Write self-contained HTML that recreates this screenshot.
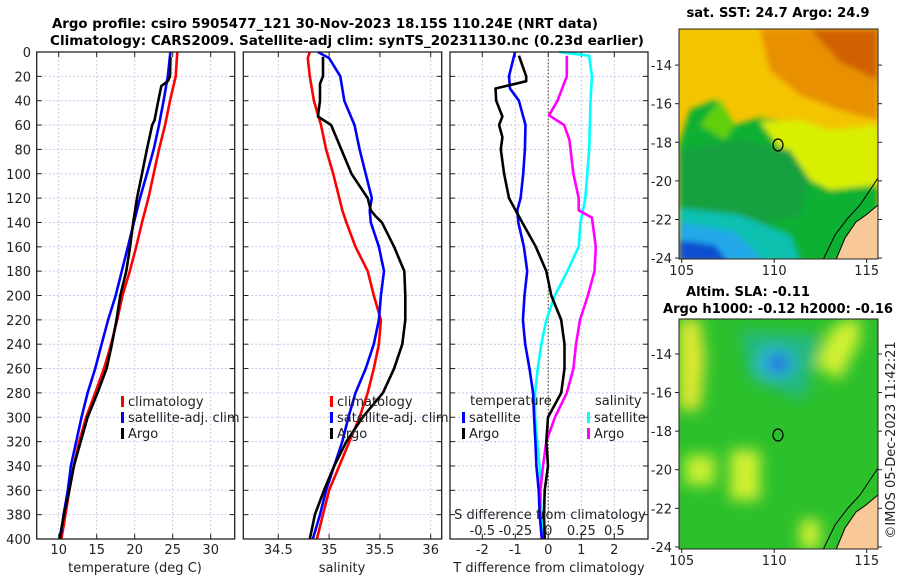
<!DOCTYPE html>
<html><head><meta charset="utf-8"><style>
body{margin:0;background:#fff;}
svg{display:block;font-family:"DejaVu Sans","Liberation Sans",sans-serif;}
.t{font-size:13px;fill:#222;}
.b{font-size:13px;font-weight:bold;fill:#000;}
</style></head><body>
<svg id="fig" width="900" height="580" viewBox="0 0 900 580">
<text class="b" x="325" y="28" text-anchor="middle" textLength="546" lengthAdjust="spacingAndGlyphs">Argo profile: csiro 5905477_121 30-Nov-2023 18.15S 110.24E (NRT data)</text>
<text class="b" x="347" y="45" text-anchor="middle" textLength="594" lengthAdjust="spacingAndGlyphs">Climatology: CARS2009. Satellite-adj clim: synTS_20231130.nc (0.23d earlier)</text>

<g>
<defs>
<clipPath id="c1"><rect x="679" y="29" width="199" height="230"/></clipPath>
<clipPath id="c2"><rect x="679" y="319" width="199" height="230"/></clipPath>
<filter id="bl" x="-20%" y="-20%" width="140%" height="140%"><feGaussianBlur stdDeviation="3"/></filter>
<filter id="bl2" x="-20%" y="-20%" width="140%" height="140%"><feGaussianBlur stdDeviation="7"/></filter>
</defs>
<g clip-path="url(#c1)">
<rect x="679" y="29" width="199" height="230" fill="#f4c400"/>
<g filter="url(#bl)">
<polygon points="760,29 878,29 878,120 840,110 800,95 770,70" fill="#e89000"/>
<polygon points="810,29 878,29 878,80 840,62" fill="#d06000"/>
<polygon points="679,145 690,110 715,100 735,125 760,118 790,122 820,140 800,170 830,185 878,175 878,262 679,262" fill="#10b030"/>
<polygon points="700,125 720,100 735,125 725,140" fill="#60d010"/>
<polygon points="760,122 800,120 830,130 878,125 878,185 830,190 800,175" fill="#d8f000"/>
<polygon points="679,150 740,140 790,150 810,180 800,215 760,225 679,215" fill="#14a040"/>
<polygon points="679,208 740,215 790,235 800,262 679,262" fill="#10c0b0"/>
<polygon points="679,222 735,232 765,262 679,262" fill="#20a8e8"/>
<polygon points="679,240 715,245 728,262 679,262" fill="#1050d0"/>
</g>
<polygon points="835,262 845,238 856,222 866,215 878,205 878,262" fill="#f8c898" stroke="#000" stroke-width="1"/>
<polyline points="822,262 835,235 848,218 860,205 870,190 878,178" fill="none" stroke="#000" stroke-width="1"/>
<ellipse cx="778" cy="145" rx="5" ry="6" fill="none" stroke="#000" stroke-width="1.2"/>
</g>
<rect x="679" y="29" width="199" height="230" fill="none" stroke="#222" stroke-width="1"/>
</g>
<text class="b" x="778" y="17" text-anchor="middle" textLength="183" lengthAdjust="spacingAndGlyphs">sat. SST: 24.7 Argo: 24.9</text>

<g>
<g clip-path="url(#c2)">
<rect x="679" y="319" width="199" height="230" fill="#2cc02c"/>
<g filter="url(#bl2)">
<polygon points="679,319 700,319 705,360 700,410 679,410" fill="#e0e830"/>
<polygon points="830,330 845,320 860,320 860,340 840,380 815,365" fill="#d0f030"/>
<polygon points="685,455 715,455 715,485 685,485" fill="#c8f030"/>
<polygon points="730,450 760,450 760,500 730,500" fill="#d0f030"/>
<polygon points="800,520 820,520 820,549 800,549" fill="#d0f030"/>
<polygon points="740,330 820,335 805,400 750,380" fill="#20b880"/>
<ellipse cx="776" cy="363" rx="20" ry="16" fill="#30c0d0"/>
<ellipse cx="778" cy="363" rx="12" ry="10" fill="#2070e0"/>
</g>
<polygon points="835,552 845,528 856,512 866,505 878,495 878,552" fill="#f8c898" stroke="#000" stroke-width="1"/>
<polyline points="822,552 835,525 848,508 860,495 870,480 878,468" fill="none" stroke="#000" stroke-width="1"/>
<ellipse cx="778" cy="435" rx="5" ry="6" fill="none" stroke="#000" stroke-width="1.2"/>
</g>
<rect x="679" y="319" width="199" height="230" fill="none" stroke="#222" stroke-width="1"/>
</g>
<text class="b" x="748" y="296" text-anchor="middle" textLength="124" lengthAdjust="spacingAndGlyphs">Altim. SLA: -0.11</text>
<text class="b" x="778" y="313" text-anchor="middle" textLength="230" lengthAdjust="spacingAndGlyphs">Argo h1000: -0.12 h2000: -0.16</text>
<text class="t" transform="translate(895,440) rotate(-90)" text-anchor="middle">©IMOS 05-Dec-2023 11:42:21</text>
<g id="plots"></g>
</svg>
<script>
const tDep=[0,20,40,60,80,100,120,140,160,180,200,220,240,260,280,300,320,340,360,380,400];
const tClim=[25.6,25.4,24.65,24.0,23.2,22.5,21.8,20.96,20.2,19.35,18.4,17.7,16.9,15.96,14.8,13.6,12.7,12.0,11.4,10.9,10.35];
const tSat=[24.7,24.35,23.8,23.2,22.5,21.6,20.7,19.9,19.1,18.3,17.5,16.5,15.65,14.8,13.8,13.0,12.3,11.6,11.2,10.65,10.2];
const aDep=[4,20,24,28,40,56,60,80,100,120,140,160,180,200,220,240,260,280,300,320,340,360,380,400];
const tArgo=[24.7,24.65,24.35,23.5,23.1,22.6,22.3,21.6,20.96,20.3,19.8,19.4,18.9,18.1,17.6,17.0,16.3,15.1,13.8,12.9,12.0,11.4,10.7,10.1];
const sDep=[0,5,20,40,60,80,100,120,130,140,160,180,200,220,240,260,280,300,320,340,360,380,400];
const sClim=[34.81,34.79,34.81,34.85,34.92,34.97,35.04,35.10,35.13,35.17,35.26,35.38,35.44,35.51,35.49,35.44,35.38,35.30,35.20,35.10,35.0,34.94,34.88];
const sSat=[34.89,35.0,35.11,35.15,35.25,35.30,35.36,35.42,35.40,35.41,35.49,35.54,35.51,35.49,35.44,35.36,35.26,35.19,35.13,35.05,34.97,34.91,34.84];
const sArgoDep=[4,20,26,40,53,60,80,100,120,130,135,140,160,180,200,220,240,260,280,300,320,340,360,380,400];
const sArgo=[34.94,34.94,34.91,34.91,34.89,35.02,35.12,35.22,35.38,35.41,35.46,35.52,35.64,35.74,35.75,35.75,35.72,35.64,35.53,35.33,35.17,35.05,34.95,34.86,34.81];
const dTDep=[0,20,30,40,60,80,100,120,130,140,160,180,200,220,240,260,280,300,320,340,360,380,400];
const dTSat=[-1.01,-1.19,-1.16,-0.89,-0.69,-0.71,-0.76,-0.84,-0.94,-0.91,-0.74,-0.64,-0.72,-0.77,-0.70,-0.57,-0.46,-0.43,-0.39,-0.36,-0.29,-0.26,-0.19];
const dTArgoDep=[3,20,24,30,40,53,60,70,80,100,120,130,140,160,180,200,220,240,260,280,300,320,340,360,380,400];
const dTArgo=[-0.89,-0.67,-0.67,-1.6,-1.58,-1.39,-1.49,-1.39,-1.44,-1.34,-1.19,-0.99,-0.79,-0.38,-0.06,0.09,0.39,0.49,0.49,0.39,-0.01,-0.06,-0.01,-0.11,-0.13,-0.11];
const dSDep=[0,3,20,40,80,120,140,160,180,200,220,240,260,280,300,320,340,360,380,400];
const dSSat=[0.08,0.31,0.33,0.32,0.31,0.28,0.245,0.23,0.145,0.05,-0.015,-0.053,-0.08,-0.1,-0.1,-0.083,-0.066,-0.06,-0.05,-0.03];
const dSArgoDep=[3,20,40,52,60,72,100,120,130,136,160,180,200,220,240,260,280,300,320,340,360,380,400];
const dSArgo=[0.14,0.14,0.07,0.005,0.12,0.16,0.19,0.23,0.23,0.33,0.36,0.35,0.30,0.24,0.21,0.19,0.14,0.05,-0.015,-0.04,-0.06,-0.065,-0.05];
const depthTicks=[0,20,40,60,80,100,120,140,160,180,200,220,240,260,280,300,320,340,360,380,400];
const tTicks=[10,15,20,25,30];
const sTicks=[34.5,35,35.5,36];
const dTTicks=[-2,-1,0,1,2];
const dSTicks=[-0.5,-0.25,0,0.25,0.5];
const dSTickLabels=["-0.5","-0.25","0","0.25","0.5"];
const lonTicks=[105,110,115];
const latTicks=[-14,-16,-18,-20,-22,-24];

const NS="http://www.w3.org/2000/svg";
const root=document.getElementById('plots');
const Y0=52,Y1=539;
const yD=d=>Y0+d*(Y1-Y0)/400;
const xT=t=>58.7+(t-10)*7.6;
const xS=s=>278.3+(s-34.5)*101.6;
const xDT=t=>548.3+t*33;
const xDS=s=>548.3+s*132;
function mk(tag,at,parent){const e=document.createElementNS(NS,tag);for(const k in at)e.setAttribute(k,at[k]);(parent||root).appendChild(e);return e;}
function txt(x,y,s,anchor,cls,parent){const e=mk('text',{x:x,y:y,'text-anchor':anchor||'middle',class:cls||'t'},parent);e.textContent=s;return e;}

const panels=[{x0:36.7,x1:234.7,name:'temperature-panel'},{x0:243.3,x1:441.7,name:'salinity-panel'},{x0:450,x1:648,name:'difference-panel'}];
const gridX=[tTicks.map(xT),sTicks.map(xS),dTTicks.map(xDT)];
panels.forEach((p,i)=>{
  const g=mk('g',{});
  
  
  p.g=g;
  depthTicks.forEach(d=>{
    const l=mk('line',{x1:p.x0,x2:p.x1,y1:yD(d),y2:yD(d),stroke:'#c4c8ec','stroke-width':1,'stroke-dasharray':'2,2'},g);
    
    
    mk('line',{x1:p.x0,x2:p.x0+5,y1:yD(d),y2:yD(d),stroke:'#222'},g);
    mk('line',{x1:p.x1-5,x2:p.x1,y1:yD(d),y2:yD(d),stroke:'#222'},g);
  });
  gridX[i].forEach(x=>{
    const l=mk('line',{x1:x,x2:x,y1:Y0,y2:Y1,stroke:'#d8c8e0','stroke-width':1,'stroke-dasharray':'2,2'},g);
    
    
    mk('line',{x1:x,x2:x,y1:Y0,y2:Y0+5,stroke:'#222'},g);
    mk('line',{x1:x,x2:x,y1:Y1-5,y2:Y1,stroke:'#222'},g);
  });
});
depthTicks.forEach(d=>{const t=txt(31,yD(d)+5,String(d),'end');
  
  });
tTicks.forEach(v=>{const t=txt(xT(v),554,String(v));});
sTicks.forEach(v=>{const t=txt(xS(v),554,String(v));});
dTTicks.forEach(v=>{const t=txt(xDT(v),554,String(v));});
let a=txt(135,572,'temperature (deg C)');
a=txt(342,572,'salinity');
a=txt(549,572,'T difference from climatology');

mk('line',{x1:xDT(0),x2:xDT(0),y1:Y0,y2:Y1,stroke:'#556030','stroke-width':1.2,'stroke-dasharray':'1.5,2'},panels[2].g);

function line(g,xs,ds,fx,col,name){
  const pts=xs.map((v,i)=>fx(v).toFixed(1)+','+yD(ds[i]).toFixed(1)).join(' ');
  const e=mk('polyline',{points:pts,fill:'none',stroke:col,'stroke-width':2.6,'stroke-linejoin':'round'},g);
  
  
}
line(panels[0].g,tClim,tDep,xT,'#ff0000','temperature-climatology-line');
line(panels[0].g,tSat,tDep,xT,'#0000ff','temperature-satellite-line');
line(panels[0].g,tArgo,aDep,xT,'#000000','temperature-argo-line');
line(panels[1].g,sClim,sDep,xS,'#ff0000','salinity-climatology-line');
line(panels[1].g,sSat,sDep,xS,'#0000ff','salinity-satellite-line');
line(panels[1].g,sArgo,sArgoDep,xS,'#000000','salinity-argo-line');
line(panels[2].g,dSSat,dSDep,xDS,'#00ffff','s-diff-satellite-line');
line(panels[2].g,dSArgo,dSArgoDep,xDS,'#ff00ff','s-diff-argo-line');
line(panels[2].g,dTSat,dTDep,xDT,'#0000ff','t-diff-satellite-line');
line(panels[2].g,dTArgo,dTArgoDep,xDT,'#000000','t-diff-argo-line');

a=txt(550,519,'S difference from climatology');
dSTicks.forEach((v,i)=>{const t=txt(xDS(v),535,dSTickLabels[i]);});

function leg(x,y,col,label,name){
  const g=mk('g',{});
  
  
  mk('rect',{x:x,y:y-10,width:3,height:11,fill:col},g);
  txt(x+7,y,label,'start','t',g);
}
leg(121,406,'#ff0000','climatology','legend-climatology');
leg(121,422,'#0000ff','satellite-adj. clim','legend-satellite-adj');
leg(121,438,'#000000','Argo','legend-argo');
leg(330,406,'#ff0000','climatology','legend-climatology-sal');
leg(330,422,'#0000ff','satellite-adj. clim','legend-satellite-adj-sal');
leg(330,438,'#000000','Argo','legend-argo-sal');
a=txt(470,405,'temperature','start');
leg(462,422,'#0000ff','satellite','legend-t-satellite');
leg(462,438,'#000000','Argo','legend-t-argo');
a=txt(595,405,'salinity','start');
leg(587,422,'#00ffff','satellite','legend-s-satellite');
leg(587,438,'#ff00ff','Argo','legend-s-argo');

panels.forEach(p=>{mk('rect',{x:p.x0,y:Y0,width:p.x1-p.x0,height:Y1-Y0,fill:'none',stroke:'#222','stroke-width':1.3},p.g);});

const lonX=l=>681.7+(l-105)*18.5;
[[29,259,-12.13,19.3,'sst'],[319,549,-12.19,19.3,'sla']].forEach(m=>{
  const [top,bot,lat0,ppd,nm]=m;
  const latY=l=>top+(lat0-l)*ppd;
  latTicks.forEach(l=>{
    const y=latY(l);
    mk('line',{x1:679,x2:675,y1:y,y2:y,stroke:'#222'});
    mk('line',{x1:878,x2:882,y1:y,y2:y,stroke:'#222'});
    const t=txt(672,y+5,String(l),'end');
    
    
  });
  lonTicks.forEach(l=>{
    const x=lonX(l);
    mk('line',{x1:x,x2:x,y1:bot,y2:bot+4,stroke:'#222'});
    const t=txt(x,bot+16,String(l));
    
    
  });
});
</script>
</body></html>
